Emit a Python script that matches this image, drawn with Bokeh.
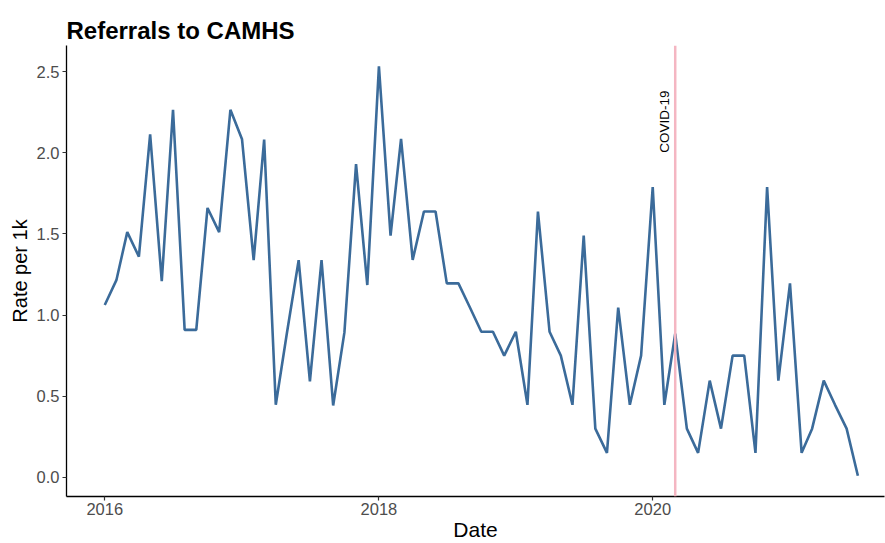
import math
import pandas as pd
from bokeh.plotting import figure
from bokeh.models import (Range1d, FixedTicker, DatetimeTickFormatter, Span, Label,
                          PrintfTickFormatter)
from bokeh.embed import file_html
from bokeh.resources import INLINE

# ---- data ----
start_month = "2016-01-01"
rate_per_1k = [
    1.062, 1.215, 1.511, 1.360, 2.114, 1.209, 2.265, 0.909, 0.909, 1.660, 1.511, 2.265,
    2.083, 1.338, 2.081, 0.447, 0.894, 1.338, 0.592, 1.338, 0.443, 0.893, 1.930, 1.185,
    2.532, 1.489, 2.085, 1.340, 1.638, 1.638, 1.195, 1.195, 1.045, 0.897, 0.897, 0.750,
    0.897, 0.447, 1.638, 0.897, 0.750, 0.447, 1.489, 0.300, 0.151, 1.046, 0.447, 0.750,
    1.789, 0.447, 0.885, 0.300, 0.151, 0.596, 0.300, 0.750, 0.750, 0.151, 1.789, 0.596,
    1.195, 0.151, 0.300, 0.596, 0.447, 0.300, 0.010,
]
dates = pd.date_range(start_month, periods=len(rate_per_1k), freq="MS")
x_tick_dates = ["2016-01-01", "2018-01-01", "2020-01-01"]
y_ticks = [0.0, 0.5, 1.0, 1.5, 2.0, 2.5]
covid_date = "2020-03-01"
covid_label = "COVID-19"
covid_label_y = 2.0
title_text = "Referrals to CAMHS"
x_label = "Date"
y_label = "Rate per 1k"


def ms(d):
    return pd.Timestamp(d).value / 1e6


FONT = "Liberation Sans"
Y0, Y1 = -0.118, 2.661

p = figure(
    width=885, height=543,
    x_axis_type="datetime",
    output_backend="svg", toolbar_location=None,
    x_range=Range1d(ms("2015-09-21"), ms("2021-09-10")),
    y_range=Range1d(Y0, Y1),
    min_border_left=66, min_border_right=1, min_border_top=45, min_border_bottom=44,
)

p.line(dates, rate_per_1k, line_color="#3b6b9a", line_width=2.6)

p.add_layout(Span(location=ms(covid_date), dimension="height",
                  line_color="#f4b6c2", line_width=2.5))
p.add_layout(Label(x=ms(covid_date), y=covid_label_y, text=covid_label,
                   angle=math.pi / 2, text_align="left", text_baseline="bottom",
                   x_offset=-3, text_font_size="13.5px", text_font=FONT,
                   text_color="black"))

# title
p.title.text = title_text
p.title.text_font = FONT
p.title.text_font_size = "24px"
p.title.text_font_style = "bold"
p.title.text_color = "black"
p.title.align = "left"
p.title.offset = 0
p.title.standoff = 4

# grid / outline
p.xgrid.visible = False
p.ygrid.visible = False
p.outline_line_color = None
p.background_fill_color = "white"
p.border_fill_color = "white"

for ax in (p.xaxis[0], p.yaxis[0]):
    ax.axis_line_color = "black"
    ax.axis_line_width = 1.3
    ax.major_tick_line_color = "#333333"
    ax.major_tick_line_width = 1.2
    ax.major_tick_out = 4
    ax.major_tick_in = 0
    ax.minor_tick_line_color = None
    ax.major_label_text_font = FONT
    ax.major_label_text_font_size = "16.5px"
    ax.major_label_text_color = "#4d4d4d"
    ax.major_label_standoff = 3
    ax.axis_label_text_font = FONT
    ax.axis_label_text_font_size = "20px"
    ax.axis_label_text_font_style = "normal"
    ax.axis_label_text_color = "black"

p.yaxis.axis_label = y_label
p.yaxis.axis_label_standoff = 3
p.xaxis.axis_label = x_label
p.xaxis.axis_label_text_font_size = "21px"
p.xaxis.axis_label_standoff = 0
p.xaxis.major_label_standoff = 2
p.xaxis.ticker = FixedTicker(ticks=[ms(d) for d in x_tick_dates])
p.xaxis.formatter = DatetimeTickFormatter(years="%Y", months="%Y", days="%Y",
                                          hours="%Y", minutes="%Y", seconds="%Y")
p.yaxis.ticker = FixedTicker(ticks=y_ticks)
p.yaxis.formatter = PrintfTickFormatter(format="%.1f")

open("out.html", "w").write(file_html(p, INLINE))
